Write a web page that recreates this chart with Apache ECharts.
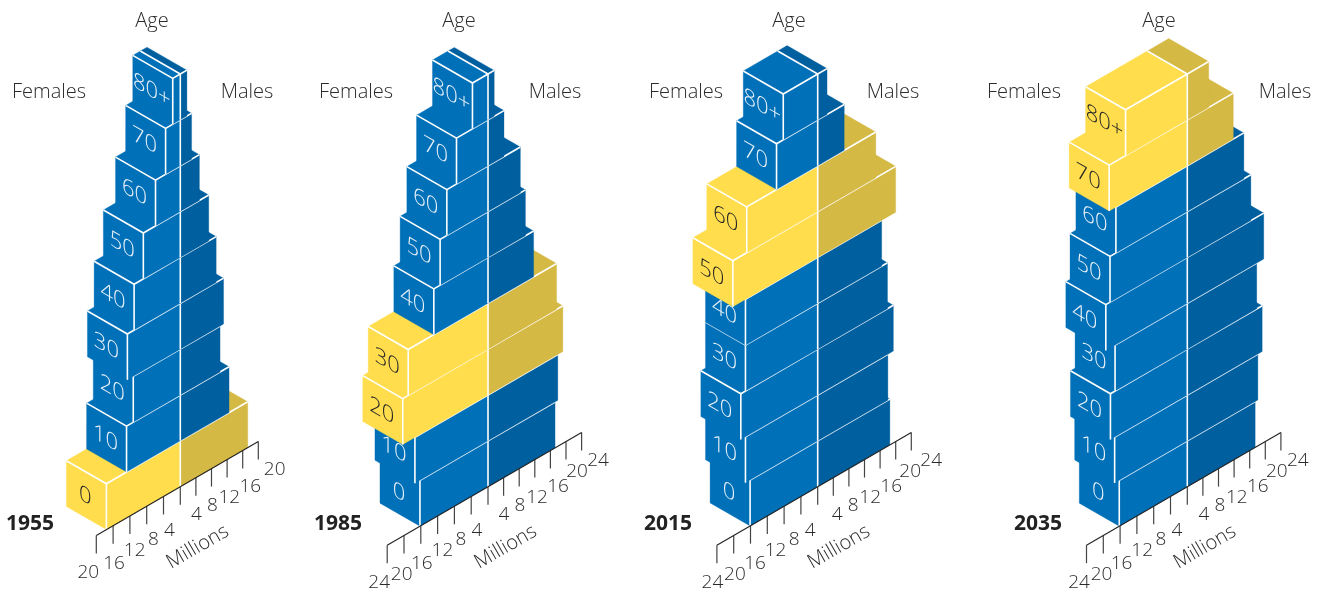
<!DOCTYPE html>
<html>
<head>
<meta charset="utf-8">
<style>html,body{margin:0;padding:0;background:#fff}#c{width:1320px;height:590px}</style>
<script src="https://cdn.jsdelivr.net/npm/echarts@6/dist/echarts.min.js"></script>
</head>
<body>
<div id="c"></div>
<script>
// ---- data (millions, by age band) ----
const ageLabels = ['0','10','20','30','40','50','60','70','80+'];
const years = ['1955','1985','2015','2035'];
const females1955 = [17.6,12.8,11.2,12.6,11.0,8.8,5.9,3.5,1.8];
const males1955   = [17.3,12.5,10.2,11.1,9.2,7.3,4.9,2.9,1.7];
const females1985 = [16.2,17.4,20.3,19.0,12.9,11.4,9.8,7.5,3.7];
const males1985   = [17.2,17.9,19.2,17.6,11.7,9.6,8.3,4.1,1.6];
const females2015 = [16.1,17.2,18.3,17.2,17.2,20.2,16.9,9.8,8.2];
const males2015   = [18.5,18.0,19.4,17.9,16.4,20.0,14.9,6.8,2.4];
const females2035 = [16.2,17.3,18.3,17.2,19.4,18.4,17.0,18.6,14.7];
const males2035   = [17.4,18.1,19.2,17.8,19.6,16.3,14.5,11.8,5.5];
const cohort1955 = ['0'];
const cohort1985 = ['20','30'];
const cohort2015 = ['50','60'];
const cohort2035 = ['70','80+'];
const ticks1955 = [4,8,12,16,20];
const ticks1985 = [4,8,12,16,20,24];
const ticks2015 = [4,8,12,16,20,24];
const ticks2035 = [4,8,12,16,20,24];

// ---- layout and style ----
const panels = [
  {f:females1955,m:males1955,c:cohort1955,t:ticks1955,cx:180.3,age:152,fem:49,mal:247,yr:30,lab:0,mil:17.4},
  {f:females1985,m:males1985,c:cohort1985,t:ticks1985,cx:488,age:459,fem:356,mal:555,yr:338,lab:0,mil:17.7},
  {f:females2015,m:males2015,c:cohort2015,t:ticks2015,cx:817.7,age:789,fem:686,mal:893,yr:668,lab:3.5,mil:21.3},
  {f:females2035,m:males2035,c:cohort2035,t:ticks2035,cx:1187.3,age:1159,fem:1024,mal:1285,yr:1038,lab:0.5,mil:17.7}
];
const pxF = 4.2, pxM = 3.9, maxM = 24;
const gridTop = 74, gridHeight = 412.7;
const slope = 0.58, depthX = -40, depthY = -23;
const BLUE='#0070b8', BLUE_D='#005f9f', YEL='#ffdd4d', YEL_D='#d5b945';
const FONT = '"Open Sans", "Noto Sans", sans-serif';
const INK = '#2b2b2b';
const WHITE_LINE = {stroke:'#fff', lineWidth:1.6, fill:null};
// tick label offset from the point where the tick meets the axis
const tickOffset = {
  '-4':[5.8,33],'-8':[6.6,32],'-12':[4.8,33.4],'-16':[1,37.3],'-20':[-2.3,38],'-24':[-8,36.5],
  '4':[0.4,36],'8':[0.8,36.4],'12':[2.2,37],'16':[7.6,35.5],'20':[11,29.5],'24':[16.4,27]
};
// decomposition of the vertical shear y' = y + s*x into rotate * scale * rotate,
// so the age labels lie flat on the end faces of the boxes
const SHEAR = (function(s){
  const E=1, H=s/2, G=s/2, Q=Math.hypot(E,H), R=Math.abs(G);
  const a1=Math.atan2(G,0), a2=Math.atan2(H,E);
  return {sx:Q+R, sy:Q-R, theta:(a2-a1)/2, phi:(a2+a1)/2};
})(0.58);

function skew(pt, cx){ return [pt[0], pt[1] - slope*(pt[0]-cx)]; }
function plus(p,dx,dy){ return [p[0]+dx,p[1]+dy]; }
function poly(points,fill,z2){ return {type:'polygon',shape:{points},style:{fill,stroke:fill,lineWidth:0.3},z2}; }
function line(points,z2){ return {type:'polyline',shape:{points},style:Object.assign({},WHITE_LINE),z2}; }

function boxRenderer(panel, side){
  return function(params, api){
    const band = api.value(0), v = api.value(1), hot = api.value(2) === 1;
    const zero = api.coord([0,band]);
    const cx = zero[0];
    const edge = api.coord([side==='f' ? -v : v, band]);
    const top = api.coord([0,band+1]);
    const h = zero[1]-top[1];
    const C0 = skew([cx, top[1]],cx);
    const E0 = skew([edge[0], top[1]],cx);
    const base = band*10+10;
    const kids = [];
    if(side==='f'){
      const col = hot?YEL:BLUE;
      const L = plus(E0,depthX,depthY);
      const CB = plus(C0,depthX,depthY);
      kids.push(poly([E0,C0,CB,L],col,base));
      kids.push(poly([E0,C0,plus(C0,0,h),plus(E0,0,h)],col,base+1));
      kids.push(poly([L,E0,plus(E0,0,h),plus(L,0,h)],col,base+1));
      kids.push(line([L,E0,C0],base+3));
      kids.push(line([E0,plus(E0,0,h)],base+3));
      const lab = plus([(E0[0]+L[0])/2,(E0[1]+L[1])/2],-1,h/2+1);
      kids.push({type:'group',x:lab[0],y:lab[1],rotation:-SHEAR.phi,scaleX:SHEAR.sx,scaleY:SHEAR.sy,
        children:[{type:'text',rotation:-SHEAR.theta,z2:base+4,
          style:{text:ageLabels[band],fontFamily:FONT,fontSize:22,fontWeight:300,
            fill:hot?'#262626':'#eaf2f9',align:'center',verticalAlign:'middle'}}]});
    } else {
      const col = hot?YEL_D:BLUE_D;
      const CB = plus(C0,depthX,depthY);
      kids.push(poly([C0,E0,plus(E0,depthX,depthY),CB],col,base));
      kids.push(poly([C0,E0,plus(E0,0,h),plus(C0,0,h)],col,base+1));
      kids.push(line([C0,E0],base+3));
      kids.push(line([CB,C0,plus(C0,0,h)],base+3));
    }
    return {type:'group',children:kids};
  };
}

function tickRenderer(panel, sign){
  const extent = Math.max.apply(null,panel.t);
  return function(params, api){
    const v = api.value(0);
    const p = api.coord([v,0]);
    const cx = api.coord([0,0])[0];
    const a = skew(p,cx);
    const kids = [{type:'line',shape:{x1:a[0],y1:a[1],x2:a[0],y2:a[1]+18},
      style:{stroke:'#444',lineWidth:1.2},z2:2000}];
    const absV = Math.abs(v);
    if(absV===extent){
      kids.push({type:'line',shape:{x1:a[0],y1:a[1],x2:cx,y2:skew([cx,p[1]],cx)[1]},
        style:{stroke:'#222',lineWidth:1.1},z2:2000});
    }
    if(v!==0){
      const off = tickOffset[absV===extent ? String(sign*24) : String(v)];
      kids.push({type:'text',x:a[0]+off[0]+panel.lab,y:a[1]+off[1]+1,z2:2001,
        style:{text:String(absV),fontFamily:FONT,fontSize:19,fontWeight:300,fill:INK,align:'center',verticalAlign:'middle'}});
    }
    return {type:'group',children:kids};
  };
}

const grid=[],xAxis=[],yAxis=[],series=[],graphics=[];
panels.forEach(function(panel,i){
  const fIdx = i*2, mIdx = i*2+1;
  grid.push({left:panel.cx-maxM*pxF,width:maxM*pxF,top:gridTop,height:gridHeight,containLabel:false});
  grid.push({left:panel.cx,width:maxM*pxM,top:gridTop,height:gridHeight,containLabel:false});
  xAxis.push({gridIndex:fIdx,type:'value',min:-maxM,max:0,show:false});
  xAxis.push({gridIndex:mIdx,type:'value',min:0,max:maxM,show:false});
  yAxis.push({gridIndex:fIdx,type:'value',min:0,max:9,show:false});
  yAxis.push({gridIndex:mIdx,type:'value',min:0,max:9,show:false});
  const row = function(v,b){ return [b,v,panel.c.indexOf(ageLabels[b])>=0?1:0]; };
  const common = {type:'custom',coordinateSystem:'cartesian2d',silent:true,animation:false,clip:false};
  series.push(Object.assign({},common,{name:years[i]+' females',xAxisIndex:fIdx,yAxisIndex:fIdx,
    data:panel.f.map(row),encode:{x:1,y:0},renderItem:boxRenderer(panel,'f')}));
  series.push(Object.assign({},common,{name:years[i]+' males',xAxisIndex:mIdx,yAxisIndex:mIdx,
    data:panel.m.map(row),encode:{x:1,y:0},renderItem:boxRenderer(panel,'m')}));
  series.push(Object.assign({},common,{name:years[i]+' female axis',xAxisIndex:fIdx,yAxisIndex:fIdx,
    data:[0].concat(panel.t).map(function(t){return [-t,0];}),encode:{x:0,y:1},renderItem:tickRenderer(panel,-1)}));
  series.push(Object.assign({},common,{name:years[i]+' male axis',xAxisIndex:mIdx,yAxisIndex:mIdx,
    data:panel.t.map(function(t){return [t,0];}),encode:{x:0,y:1},renderItem:tickRenderer(panel,1)}));
  const txt = function(s,x,y,extra){
    graphics.push(Object.assign({type:'text',x:x,y:y,silent:true,z:50,
      style:Object.assign({text:s,fontFamily:FONT,fontSize:20,fontWeight:300,fill:INK,align:'center',verticalAlign:'middle'},extra&&extra.style||{})},
      extra&&extra.el||{}));
  };
  txt('Age',panel.age,21);
  txt('Females',panel.fem,92.5);
  txt('Males',panel.mal,92.5);
  txt(years[i],panel.yr,524.5,{style:{fontWeight:700,fill:'#222',fontSize:21}});
  txt('Millions',panel.cx+panel.mil,547,{el:{rotation:Math.PI/6}});
});

const chart = echarts.init(document.getElementById('c'),null,{renderer:'canvas'});
chart.setOption({animation:false,backgroundColor:'#fff',grid,xAxis,yAxis,series,graphic:graphics});
</script>
</body>
</html>
